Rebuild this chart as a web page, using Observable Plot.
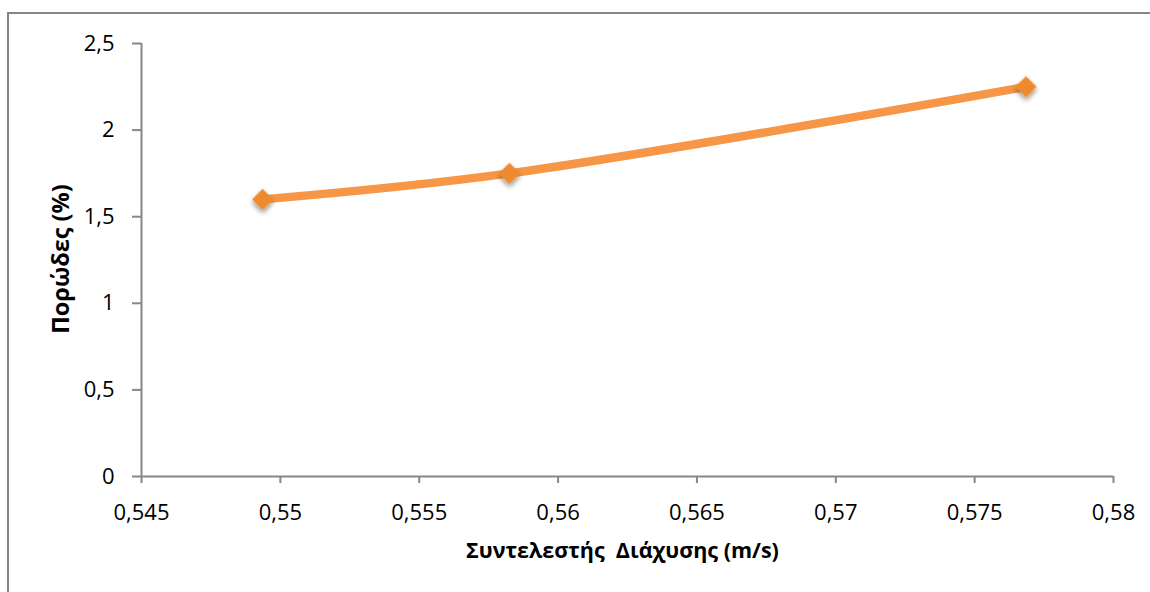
<!DOCTYPE html>
<html>
<head>
<meta charset="utf-8">
<script src="https://cdn.jsdelivr.net/npm/d3@7"></script>
<script src="https://cdn.jsdelivr.net/npm/@observablehq/plot@0.6"></script>
<style>
  html, body { margin: 0; padding: 0; background: #fff; }
  #wrap { position: relative; width: 1150px; height: 592px; overflow: hidden; }
  #border { position: absolute; left: 7px; top: 12px; width: 1200px; height: 700px;
            border-left: 2px solid #868686; border-top: 2px solid #868686; }
  #chart { position: absolute; left: 0; top: 0; }
  svg text { white-space: pre; }
</style>
</head>
<body>
<div id="wrap"><div id="border"></div><div id="chart"></div></div>
<script>
const diffusion = [0.54936, 0.55825, 0.57685];
const porosity = [1.6, 1.75, 2.25];
const xTicks = [0.545, 0.55, 0.555, 0.56, 0.565, 0.57, 0.575, 0.58];
const yTicks = [0, 0.5, 1, 1.5, 2, 2.5];
const xLabel = "Συντελεστής  Διάχυσης (m/s)";
const yLabel = "Πορώδες (%)";

const data = diffusion.map((d, i) => ({x: d, y: porosity[i]}));
const comma = v => String(+v.toFixed(4)).replace(".", ",");
const gray = "#868686";
const orange = "#F79646";

const plot = Plot.plot({
  width: 1150,
  height: 592,
  marginLeft: 141,
  marginRight: 37,
  marginTop: 43,
  marginBottom: 116,
  style: {fontFamily: "'Open Sans', sans-serif", background: "transparent", color: "#000"},
  x: {domain: [0.545, 0.58]},
  y: {domain: [0, 2.5]},
  marks: [
    Plot.axisX({ticks: xTicks, tickFormat: comma, tickSize: 7, tickPadding: 21, stroke: gray, strokeWidth: 2, strokeOpacity: 1, fill: "#000", fontSize: 22, label: null}),
    Plot.axisY({ticks: yTicks, tickFormat: comma, tickSize: 9, tickPadding: 18, stroke: gray, strokeWidth: 2, strokeOpacity: 1, fill: "#000", fontSize: 22, label: null}),
    Plot.ruleY([0], {stroke: gray, strokeWidth: 2}),
    Plot.ruleX([0.545], {stroke: gray, strokeWidth: 2}),
    Plot.line(data, {x: "x", y: "y", stroke: orange, strokeWidth: 8.5, curve: "catmull-rom"}),
    Plot.dot(data, {x: "x", y: "y", symbol: "diamond2", r: 9.5, fill: "#EE8A2E", stroke: "none"}),
    Plot.text([xLabel], {frameAnchor: "bottom", textAnchor: "middle", dy: 75, dx: -5, fontSize: 21.5, fontWeight: "bold", fill: "#000", lineAnchor: "middle"}),
    Plot.text([yLabel], {frameAnchor: "left", textAnchor: "middle", dx: -80, dy: -1, rotate: -90, fontSize: 23.5, fontWeight: "bold", fill: "#000", lineAnchor: "middle"})
  ]
});

const svg = plot;
const ns = "http://www.w3.org/2000/svg";
const defs = document.createElementNS(ns, "defs");
defs.innerHTML = `<filter id="shadow" x="-50%" y="-50%" width="200%" height="200%">
  <feDropShadow dx="0" dy="3" stdDeviation="2.5" flood-color="#000" flood-opacity="0.45"/>
</filter>`;
svg.insertBefore(defs, svg.firstChild);
const dots = svg.querySelector('g[aria-label="dot"]');
if (dots) dots.setAttribute("filter", "url(#shadow)");
document.getElementById("chart").appendChild(plot);
</script>
</body>
</html>
